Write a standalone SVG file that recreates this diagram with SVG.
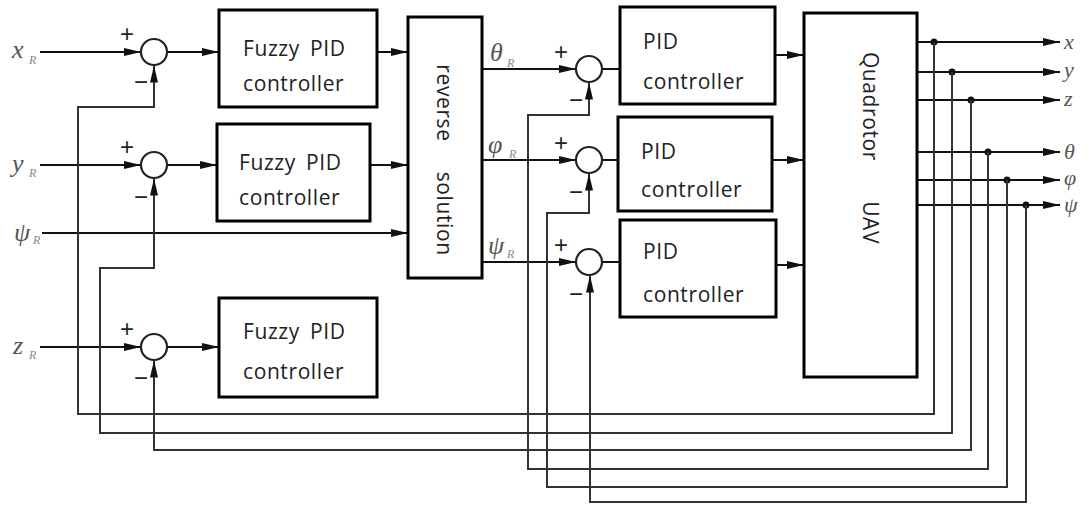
<svg xmlns="http://www.w3.org/2000/svg" width="1089" height="506" viewBox="0 0 1089 506">
<style>
.box{fill:#fff;stroke:#000;stroke-width:3}
.sum{fill:#fff;stroke:#222;stroke-width:2.2}
.ln{fill:none;stroke:#111;stroke-width:2}
.fb{fill:none;stroke:#333;stroke-width:2}
.t{font-family:"Open Sans","DejaVu Sans",sans-serif;font-size:21px;letter-spacing:0.6px;word-spacing:4px;fill:#222}
.v{font-family:"Liberation Serif",serif;font-style:italic;font-size:26px;fill:#555}
.o{font-family:"Liberation Serif",serif;font-style:italic;font-size:22px;fill:#555}
.s{font-family:"Liberation Serif",serif;font-style:italic;font-size:12px;fill:#888}
.sg{font-family:"Liberation Sans",sans-serif;font-size:24px;fill:#222}
</style>
<defs>
<marker id="a" markerUnits="userSpaceOnUse" markerWidth="18" markerHeight="10" refX="17" refY="5" orient="auto">
<path d="M0,1 L17,5 L0,9 Z" fill="#111"/>
</marker>
</defs>
<g id="connectors">
<path class="ln" d="M40,52 H141" marker-end="url(#a)"/>
<path class="ln" d="M40,165 H141" marker-end="url(#a)"/>
<path class="ln" d="M42,233 H408" marker-end="url(#a)"/>
<path class="ln" d="M40,347 H141" marker-end="url(#a)"/>
<path class="ln" d="M167,52 H219" marker-end="url(#a)"/>
<path class="ln" d="M167,165 H217" marker-end="url(#a)"/>
<path class="ln" d="M167,347 H219" marker-end="url(#a)"/>
<path class="ln" d="M377,52 H408" marker-end="url(#a)"/>
<path class="ln" d="M370,165 H408" marker-end="url(#a)"/>
<path class="ln" d="M482,69 H576" marker-end="url(#a)"/>
<path class="ln" d="M482,160 H576" marker-end="url(#a)"/>
<path class="ln" d="M482,262 H576" marker-end="url(#a)"/>
<path class="ln" d="M602,69 H620"/>
<path class="ln" d="M602,160 H618"/>
<path class="ln" d="M602,262 H620"/>
<path class="ln" d="M775,55 H804" marker-end="url(#a)"/>
<path class="ln" d="M772,160 H804" marker-end="url(#a)"/>
<path class="ln" d="M776,265 H804" marker-end="url(#a)"/>
<path class="ln" d="M917,42 H1060" marker-end="url(#a)"/>
<path class="ln" d="M917,72 H1060" marker-end="url(#a)"/>
<path class="ln" d="M917,100 H1060" marker-end="url(#a)"/>
<path class="ln" d="M917,152 H1060" marker-end="url(#a)"/>
<path class="ln" d="M917,180 H1060" marker-end="url(#a)"/>
<path class="ln" d="M917,205 H1060" marker-end="url(#a)"/>
<circle cx="934" cy="42" r="3.5" fill="#111"/>
<circle cx="952" cy="72" r="3.5" fill="#111"/>
<circle cx="971" cy="100" r="3.5" fill="#111"/>
<circle cx="988" cy="152" r="3.5" fill="#111"/>
<circle cx="1007" cy="180" r="3.5" fill="#111"/>
<circle cx="1026" cy="205" r="3.5" fill="#111"/>
<path class="fb" d="M934,42 V414 H78 V107 H154 V65.5" marker-end="url(#a)"/>
<path class="fb" d="M952,72 V433 H100 V268 H154 V178.5" marker-end="url(#a)"/>
<path class="fb" d="M971,100 V450 H154 V360.5" marker-end="url(#a)"/>
<path class="fb" d="M988,152 V469 H528 V115 H589 V82.5" marker-end="url(#a)"/>
<path class="fb" d="M1007,180 V487 H547 V213 H589 V173.5" marker-end="url(#a)"/>
<path class="fb" d="M1026,205 V502 H590 V275.5" marker-end="url(#a)"/>
</g>
<g id="sum-x"><circle class="sum" cx="154" cy="52" r="13"/><text class="sg" x="120" y="42">+</text><text class="sg" x="134" y="90">−</text></g>
<g id="sum-y"><circle class="sum" cx="154" cy="165" r="13"/><text class="sg" x="120" y="155">+</text><text class="sg" x="134" y="205">−</text></g>
<g id="sum-z"><circle class="sum" cx="154" cy="347" r="13"/><text class="sg" x="120" y="337">+</text><text class="sg" x="134" y="386">−</text></g>
<g id="sum-theta"><circle class="sum" cx="589" cy="69" r="13"/><text class="sg" x="554" y="60">+</text><text class="sg" x="569" y="108">−</text></g>
<g id="sum-phi"><circle class="sum" cx="589" cy="160" r="13"/><text class="sg" x="554" y="151">+</text><text class="sg" x="569" y="200">−</text></g>
<g id="sum-psi"><circle class="sum" cx="589" cy="262" r="13"/><text class="sg" x="554" y="253">+</text><text class="sg" x="569" y="302">−</text></g>
<g id="fuzzy1"><rect class="box" x="219" y="10" width="158" height="97"/><text class="t" x="243" y="56">Fuzzy PID</text><text class="t" x="243" y="91">controller</text></g>
<g id="fuzzy2"><rect class="box" x="217" y="124" width="153" height="97"/><text class="t" x="239" y="170">Fuzzy PID</text><text class="t" x="239" y="205">controller</text></g>
<g id="fuzzy3"><rect class="box" x="219" y="298" width="158" height="99"/><text class="t" x="243" y="339">Fuzzy PID</text><text class="t" x="243" y="379">controller</text></g>
<g id="reverse"><rect class="box" x="408" y="17" width="74" height="261"/><text class="t" transform="translate(437,160) rotate(90)" text-anchor="middle" xml:space="preserve">reverse   solution</text></g>
<g id="pid1"><rect class="box" x="620" y="7" width="155" height="97"/><text class="t" x="643" y="49">PID</text><text class="t" x="643" y="89">controller</text></g>
<g id="pid2"><rect class="box" x="618" y="117" width="154" height="94"/><text class="t" x="641" y="159">PID</text><text class="t" x="641" y="197">controller</text></g>
<g id="pid3"><rect class="box" x="620" y="220" width="156" height="97"/><text class="t" x="643" y="259">PID</text><text class="t" x="643" y="302">controller</text></g>
<g id="uav"><rect class="box" x="804" y="13" width="113" height="364"/><text class="t" transform="translate(863,148) rotate(90)" text-anchor="middle" xml:space="preserve">Quadrotor    UAV</text></g>
<g id="labels">
<text class="v" x="12" y="58">x</text><text class="s" x="29" y="64">R</text>
<text class="v" x="12" y="172">y</text><text class="s" x="29" y="177">R</text>
<text class="v" x="14" y="241">ψ</text><text class="s" x="33" y="244">R</text>
<text class="v" x="13" y="354">z</text><text class="s" x="29" y="359">R</text>
<text class="v" x="490" y="61">θ</text><text class="s" x="507" y="67">R</text>
<text class="v" x="488" y="153">φ</text><text class="s" x="509" y="158">R</text>
<text class="v" x="488" y="254">ψ</text><text class="s" x="507" y="258">R</text>
<text class="o" x="1064" y="49">x</text>
<text class="o" x="1064" y="77">y</text>
<text class="o" x="1064" y="106">z</text>
<text class="o" x="1064" y="159">θ</text>
<text class="o" x="1064" y="185">φ</text>
<text class="o" x="1064" y="212">ψ</text>
</g>
</svg>
